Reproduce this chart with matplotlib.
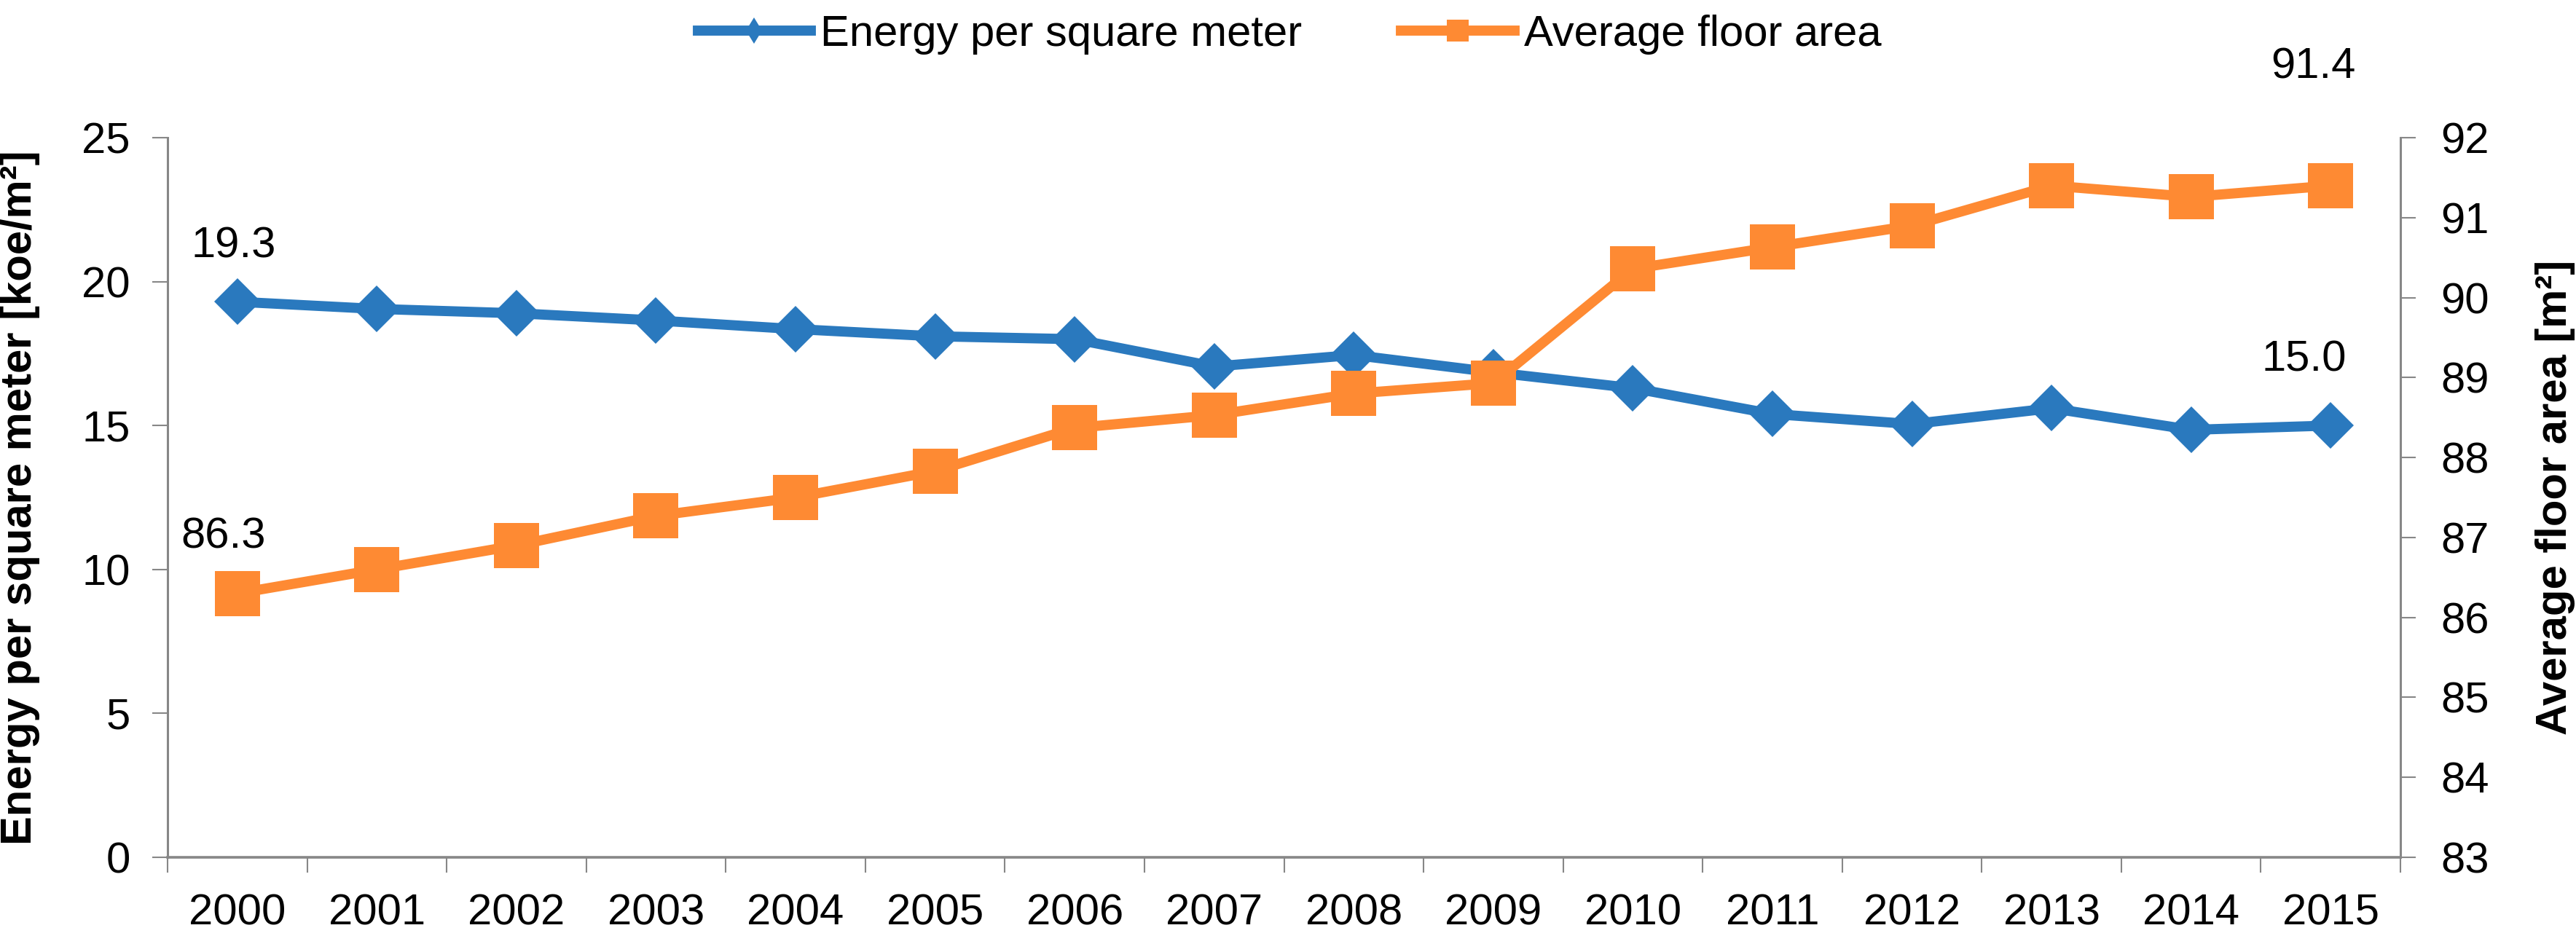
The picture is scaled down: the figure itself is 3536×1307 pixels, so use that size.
import matplotlib
matplotlib.use("Agg")
import matplotlib.pyplot as plt
from matplotlib.lines import Line2D
import numpy as np

plt.rcParams['font.family'] = ['Liberation Sans', 'DejaVu Sans']

years = [str(y) for y in range(2000, 2016)]
energy = [19.3, 19.05, 18.9, 18.65, 18.35, 18.1, 18.0, 17.05, 17.45, 16.85,
          16.3, 15.4, 15.05, 15.6, 14.85, 15.0]
floor_area = [86.3, 86.6, 86.9, 87.27, 87.5, 87.83, 88.37, 88.53, 88.8, 88.93,
              90.36, 90.63, 90.9, 91.4, 91.26, 91.4]
left_ticks = [0, 5, 10, 15, 20, 25]
right_ticks = [83, 84, 85, 86, 87, 88, 89, 90, 91, 92]

BLUE = '#2A79BE'
ORANGE = '#FE8A33'
GRAY = '#878787'
FS = 43

fig = plt.figure(figsize=(35.36, 13.07), dpi=100)
ax = fig.add_axes([230/3536, 1-1177/1307, 3065/3536, 988/1307])
ax2 = ax.twinx()

x = np.arange(len(years))
ax.plot(x, energy, color=BLUE, lw=10, marker='D', ms=33, mec=BLUE, mew=0,
        solid_joinstyle='miter', zorder=3)
ax2.plot(x, floor_area, color=ORANGE, lw=10, marker='s', ms=44, mec=ORANGE, mew=0,
         solid_joinstyle='miter', zorder=3)

ax.set_xlim(-0.5, len(years) - 0.5)
ax.set_ylim(0, 25)
ax2.set_ylim(83, 92)
ax.set_yticks(left_ticks)
ax2.set_yticks(right_ticks)
ax.set_xticks(x)
ax.set_xticklabels(years)
ax.set_xticks(np.arange(-0.5, len(years), 1), minor=True)

ax.tick_params(axis='x', which='major', length=0, pad=36, labelsize=FS)
ax.tick_params(axis='x', which='minor', length=15, width=1.5, color=GRAY, direction='out')
ax.tick_params(axis='y', length=15, width=1.5, color=GRAY, direction='out', pad=22, labelsize=FS)
ax2.tick_params(axis='y', length=15, width=1.5, color=GRAY, direction='out', pad=25, labelsize=FS)

for a in (ax, ax2):
    a.spines['top'].set_visible(False)
ax.spines['right'].set_visible(False)
ax2.spines['left'].set_visible(False)
ax2.spines['bottom'].set_visible(False)
ax.spines['left'].set_color(GRAY)
ax.spines['left'].set_linewidth(2.2)
ax.spines['bottom'].set_color(GRAY)
ax.spines['bottom'].set_linewidth(2.6)
ax2.spines['right'].set_color(GRAY)
ax2.spines['right'].set_linewidth(2.2)

ax.set_ylabel('Energy per square meter [koe/m²]', fontsize=FS, fontweight='bold')
ax.yaxis.set_label_coords(-0.0571, 0.5)
ax2.set_ylabel('Average floor area [m²]', fontsize=FS, fontweight='bold')
ax2.yaxis.set_label_coords(1.0604, 0.5)

# data labels
ax.annotate(f'{energy[0]:.1f}', (x[0], energy[0]), xytext=(-4, 55), textcoords='offset points',
            ha='center', va='center', fontsize=FS)
ax.annotate(f'{energy[-1]:.1f}', (x[-1], energy[-1]), xytext=(-26, 65), textcoords='offset points',
            ha='center', va='center', fontsize=FS)
ax2.annotate(f'{floor_area[0]:.1f}', (x[0], floor_area[0]), xytext=(-14, 56), textcoords='offset points',
             ha='center', va='center', fontsize=FS)
ax2.annotate(f'{floor_area[-1]:.1f}', (x[-1], floor_area[-1]), xytext=(-17, 117), textcoords='offset points',
             ha='center', va='center', fontsize=FS, annotation_clip=False)

handles = [
    Line2D([], [], color=BLUE, lw=10, marker='d', ms=18, mew=0),
    Line2D([], [], color=ORANGE, lw=10, marker='s', ms=21, mew=0),
]
fig.legend(handles, ['Energy per square meter', 'Average floor area'],
           loc='center', bbox_to_anchor=(0.5006, 0.964), ncol=2, frameon=False,
           fontsize=FS, handlelength=2.6, handletextpad=0.22, columnspacing=2.28,
           borderpad=0, numpoints=1)

fig.savefig('out.png', dpi=100, facecolor='white')
